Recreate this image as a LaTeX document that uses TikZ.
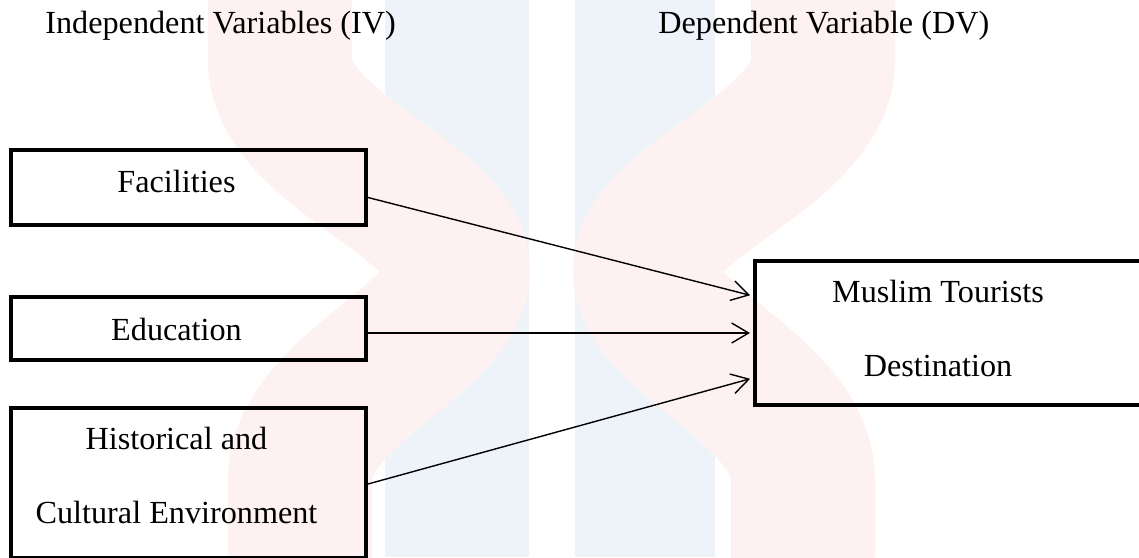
\documentclass[tikz,border=0pt]{standalone}
\usepackage{fontspec}
\setmainfont{Liberation Serif}
\usetikzlibrary{arrows.meta,calc}
\definecolor{wmpink}{RGB}{253,241,241}
\definecolor{wmblue}{RGB}{237,243,248}
\begin{document}
\begin{tikzpicture}[x=0.5pt,y=-0.5pt,
    varbox/.style={draw,line width=2pt,inner sep=0pt},
    varlbl/.style={font=\fontsize{16.1}{36.8}\selectfont,align=center,inner sep=0pt},
    link/.style={line width=0.7pt,shorten >=1.5pt,-{Straight Barb[length=8.5pt,width=10pt]}}]
    \useasboundingbox (0,0) rectangle (1139,557);
    \fill[white] (0,0) rectangle (1139,557);

    % watermark
    \fill[wmblue] (385,0) rectangle (529,557);
    \fill[wmblue] (575,0) rectangle (715,557);
    \draw[wmpink,line width=72pt] (280,-40) -- (280,60) .. controls (280,150) and (458,200) .. (458,270)
        .. controls (458,340) and (300,390) .. (300,480) -- (300,600);
    \draw[wmpink,line width=72pt] (823,-40) -- (823,60) .. controls (823,150) and (645,200) .. (645,270)
        .. controls (645,340) and (803,390) .. (803,480) -- (803,600);

    % titles
    \node[varlbl,anchor=base west] (ivtitle) at (45,33) {Independent Variables (IV)};
    \node[varlbl,anchor=base west] (dvtitle) at (658,33) {Dependent Variable (DV)};

    % boxes
    \node[varbox,minimum width=177.5pt,minimum height=37.5pt] (fac) at (188.5,187.5) {};
    \node[varbox,minimum width=177.5pt,minimum height=31.5pt] (edu) at (188.5,328.5) {};
    \node[varbox,minimum width=177.5pt,minimum height=75pt] (his) at (188.5,483) {};
    \node[varbox,minimum width=197.5pt,minimum height=72pt] (dv) at (952.5,333) {};

    \node[varlbl,anchor=base] (faclbl) at (176.5,192) {Facilities};
    \node[varlbl,anchor=base] (edulbl) at (176.5,340) {Education};
    \node[varlbl,anchor=base] (hislbl) at (176.5,523) {Historical and\\Cultural Environment};
    \node[varlbl,anchor=base] (dvlbl) at (938,376) {Muslim Tourists\\Destination};

    % arrows
    \draw[link] ($(fac.east)+(0,10)$) -- ($(dv.west)+(0,-37)$);
    \draw[link] (edu.east|-dv.west) -- (dv.west);
    \draw[link] ($(his.east)+(0,1)$) -- ($(dv.west)+(0,45)$);
\end{tikzpicture}
\end{document}
